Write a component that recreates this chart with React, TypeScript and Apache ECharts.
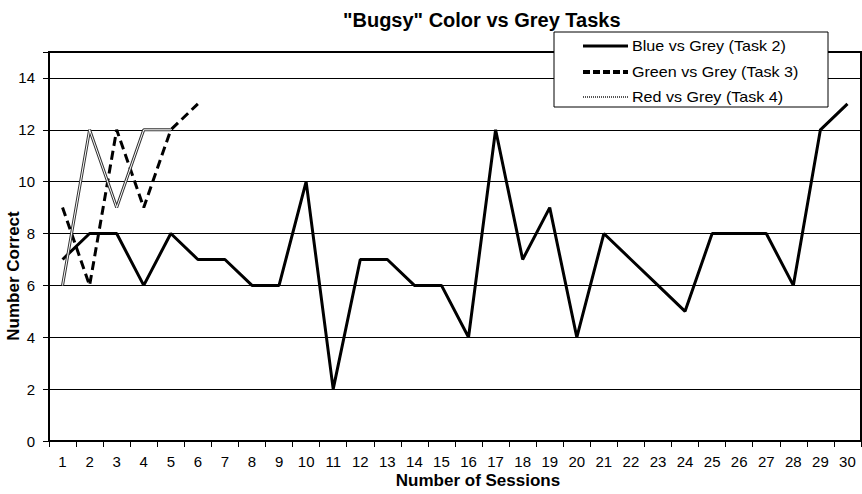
import React, { useEffect, useRef } from "react";
import * as echarts from "echarts";

const sessions = Array.from({ length: 30 }, (_, i) => String(i + 1));
const blueVsGrey = [7, 8, 8, 6, 8, 7, 7, 6, 6, 10, 2, 7, 7, 6, 6, 4, 12, 7, 9, 4, 8, 7, 6, 5, 8, 8, 8, 6, 12, 13];
const greenVsGrey = [9, 6, 12, 9, 12, 13];
const redVsGrey = [6, 12, 9, 12, 12];
const seriesNames = ["Blue vs Grey (Task 2)", "Green vs Grey (Task 3)", "Red vs Grey (Task 4)"];
const chartTitle = '"Bugsy" Color vs Grey Tasks';
const xAxisName = "Number of Sessions";
const yAxisName = "Number Correct";

export default function App() {
  const ref = useRef<HTMLDivElement>(null);
  useEffect(() => {
    const chart = echarts.init(ref.current!, null, { renderer: "svg" });
    const font = "Liberation Sans, Arial, sans-serif";
    const legendRows = [46, 72, 97];
    const legendText = (i: number) => ({
      type: "text",
      x: 632,
      y: legendRows[i],
      scaleX: 1.15,
      z: 101,
      style: {
        text: seriesNames[i],
        fontSize: 14,
        fontFamily: font,
        fill: "#000",
        verticalAlign: "middle",
      },
    });
    chart.setOption({
      animation: false,
      backgroundColor: "#fff",
      textStyle: { fontFamily: font, color: "#000" },
      title: {
        text: chartTitle,
        left: 338,
        top: 5,
        textStyle: { fontSize: 20, fontWeight: "bold", color: "#000", fontFamily: font },
      },
      grid: {
        left: 49,
        right: 1,
        top: 52,
        bottom: 53,
        containLabel: false,
        outerBoundsMode: "none",
        show: true,
        borderColor: "#000",
        borderWidth: 2,
      },
      xAxis: {
        type: "category",
        data: sessions,
        boundaryGap: true,
        axisLine: { lineStyle: { color: "#000", width: 2 } },
        axisTick: { show: true, interval: 0, length: 6, lineStyle: { color: "#000" } },
        axisLabel: { interval: 0, fontSize: 15, color: "#000", margin: 13, fontFamily: font },
      },
      yAxis: {
        type: "value",
        min: 0,
        max: 15,
        interval: 2,
        axisLine: { show: true, lineStyle: { color: "#000", width: 2 } },
        axisTick: { show: true, length: 6, lineStyle: { color: "#000" } },
        axisLabel: {
          fontSize: 15,
          color: "#000",
          margin: 14,
          fontFamily: font,
          formatter: (v: number) => (v > 14 ? "" : String(v)),
        },
        splitLine: { show: true, lineStyle: { color: "#000", width: 1 } },
      },
      graphic: [
        {
          type: "text",
          x: 478,
          y: 480,
          style: {
            text: xAxisName,
            fontSize: 17,
            fontWeight: "bold",
            fontFamily: font,
            fill: "#000",
            align: "center",
            verticalAlign: "middle",
          },
        },
        {
          type: "text",
          x: 13,
          y: 276,
          rotation: Math.PI / 2,
          style: {
            text: yAxisName,
            fontSize: 17,
            fontWeight: "bold",
            fontFamily: font,
            fill: "#000",
            align: "center",
            verticalAlign: "middle",
          },
        },
        {
          type: "rect",
          shape: { x: 554, y: 32, width: 274, height: 75 },
          style: { fill: "#fff", stroke: "#000", lineWidth: 1 },
          z: 100,
        },
        {
          type: "line",
          shape: { x1: 583, y1: legendRows[0], x2: 628, y2: legendRows[0] },
          style: { stroke: "#000", lineWidth: 3 },
          z: 101,
        },
        {
          type: "line",
          shape: { x1: 583, y1: legendRows[1], x2: 628, y2: legendRows[1] },
          style: { stroke: "#000", lineWidth: 4, lineDash: [7, 3] },
          z: 101,
        },
        {
          type: "line",
          shape: { x1: 583, y1: legendRows[2], x2: 628, y2: legendRows[2] },
          style: { stroke: "#555", lineWidth: 2, lineDash: [1, 1] },
          z: 101,
        },
        legendText(0),
        legendText(1),
        legendText(2),
      ],
      series: [
        {
          name: seriesNames[0],
          type: "line",
          data: blueVsGrey,
          symbol: "none",
          lineStyle: { color: "#000", width: 3 },
          itemStyle: { color: "#000" },
          z: 3,
        },
        {
          name: seriesNames[1],
          type: "line",
          data: greenVsGrey,
          symbol: "none",
          lineStyle: { color: "#000", width: 3, type: [9, 5] },
          itemStyle: { color: "#000" },
          z: 4,
        },
        {
          name: seriesNames[2],
          type: "line",
          data: redVsGrey,
          symbol: "none",
          lineStyle: { color: "#333", width: 3 },
          itemStyle: { color: "#666" },
          z: 5,
        },
        {
          name: "red-inner",
          type: "line",
          data: redVsGrey,
          symbol: "none",
          lineStyle: { color: "#fff", width: 1 },
          z: 6,
          silent: true,
        },
      ],
    });
    return () => chart.dispose();
  }, []);
  return <div ref={ref} style={{ width: 862, height: 494, position: "absolute", left: 0, top: 0 }} />;
}
